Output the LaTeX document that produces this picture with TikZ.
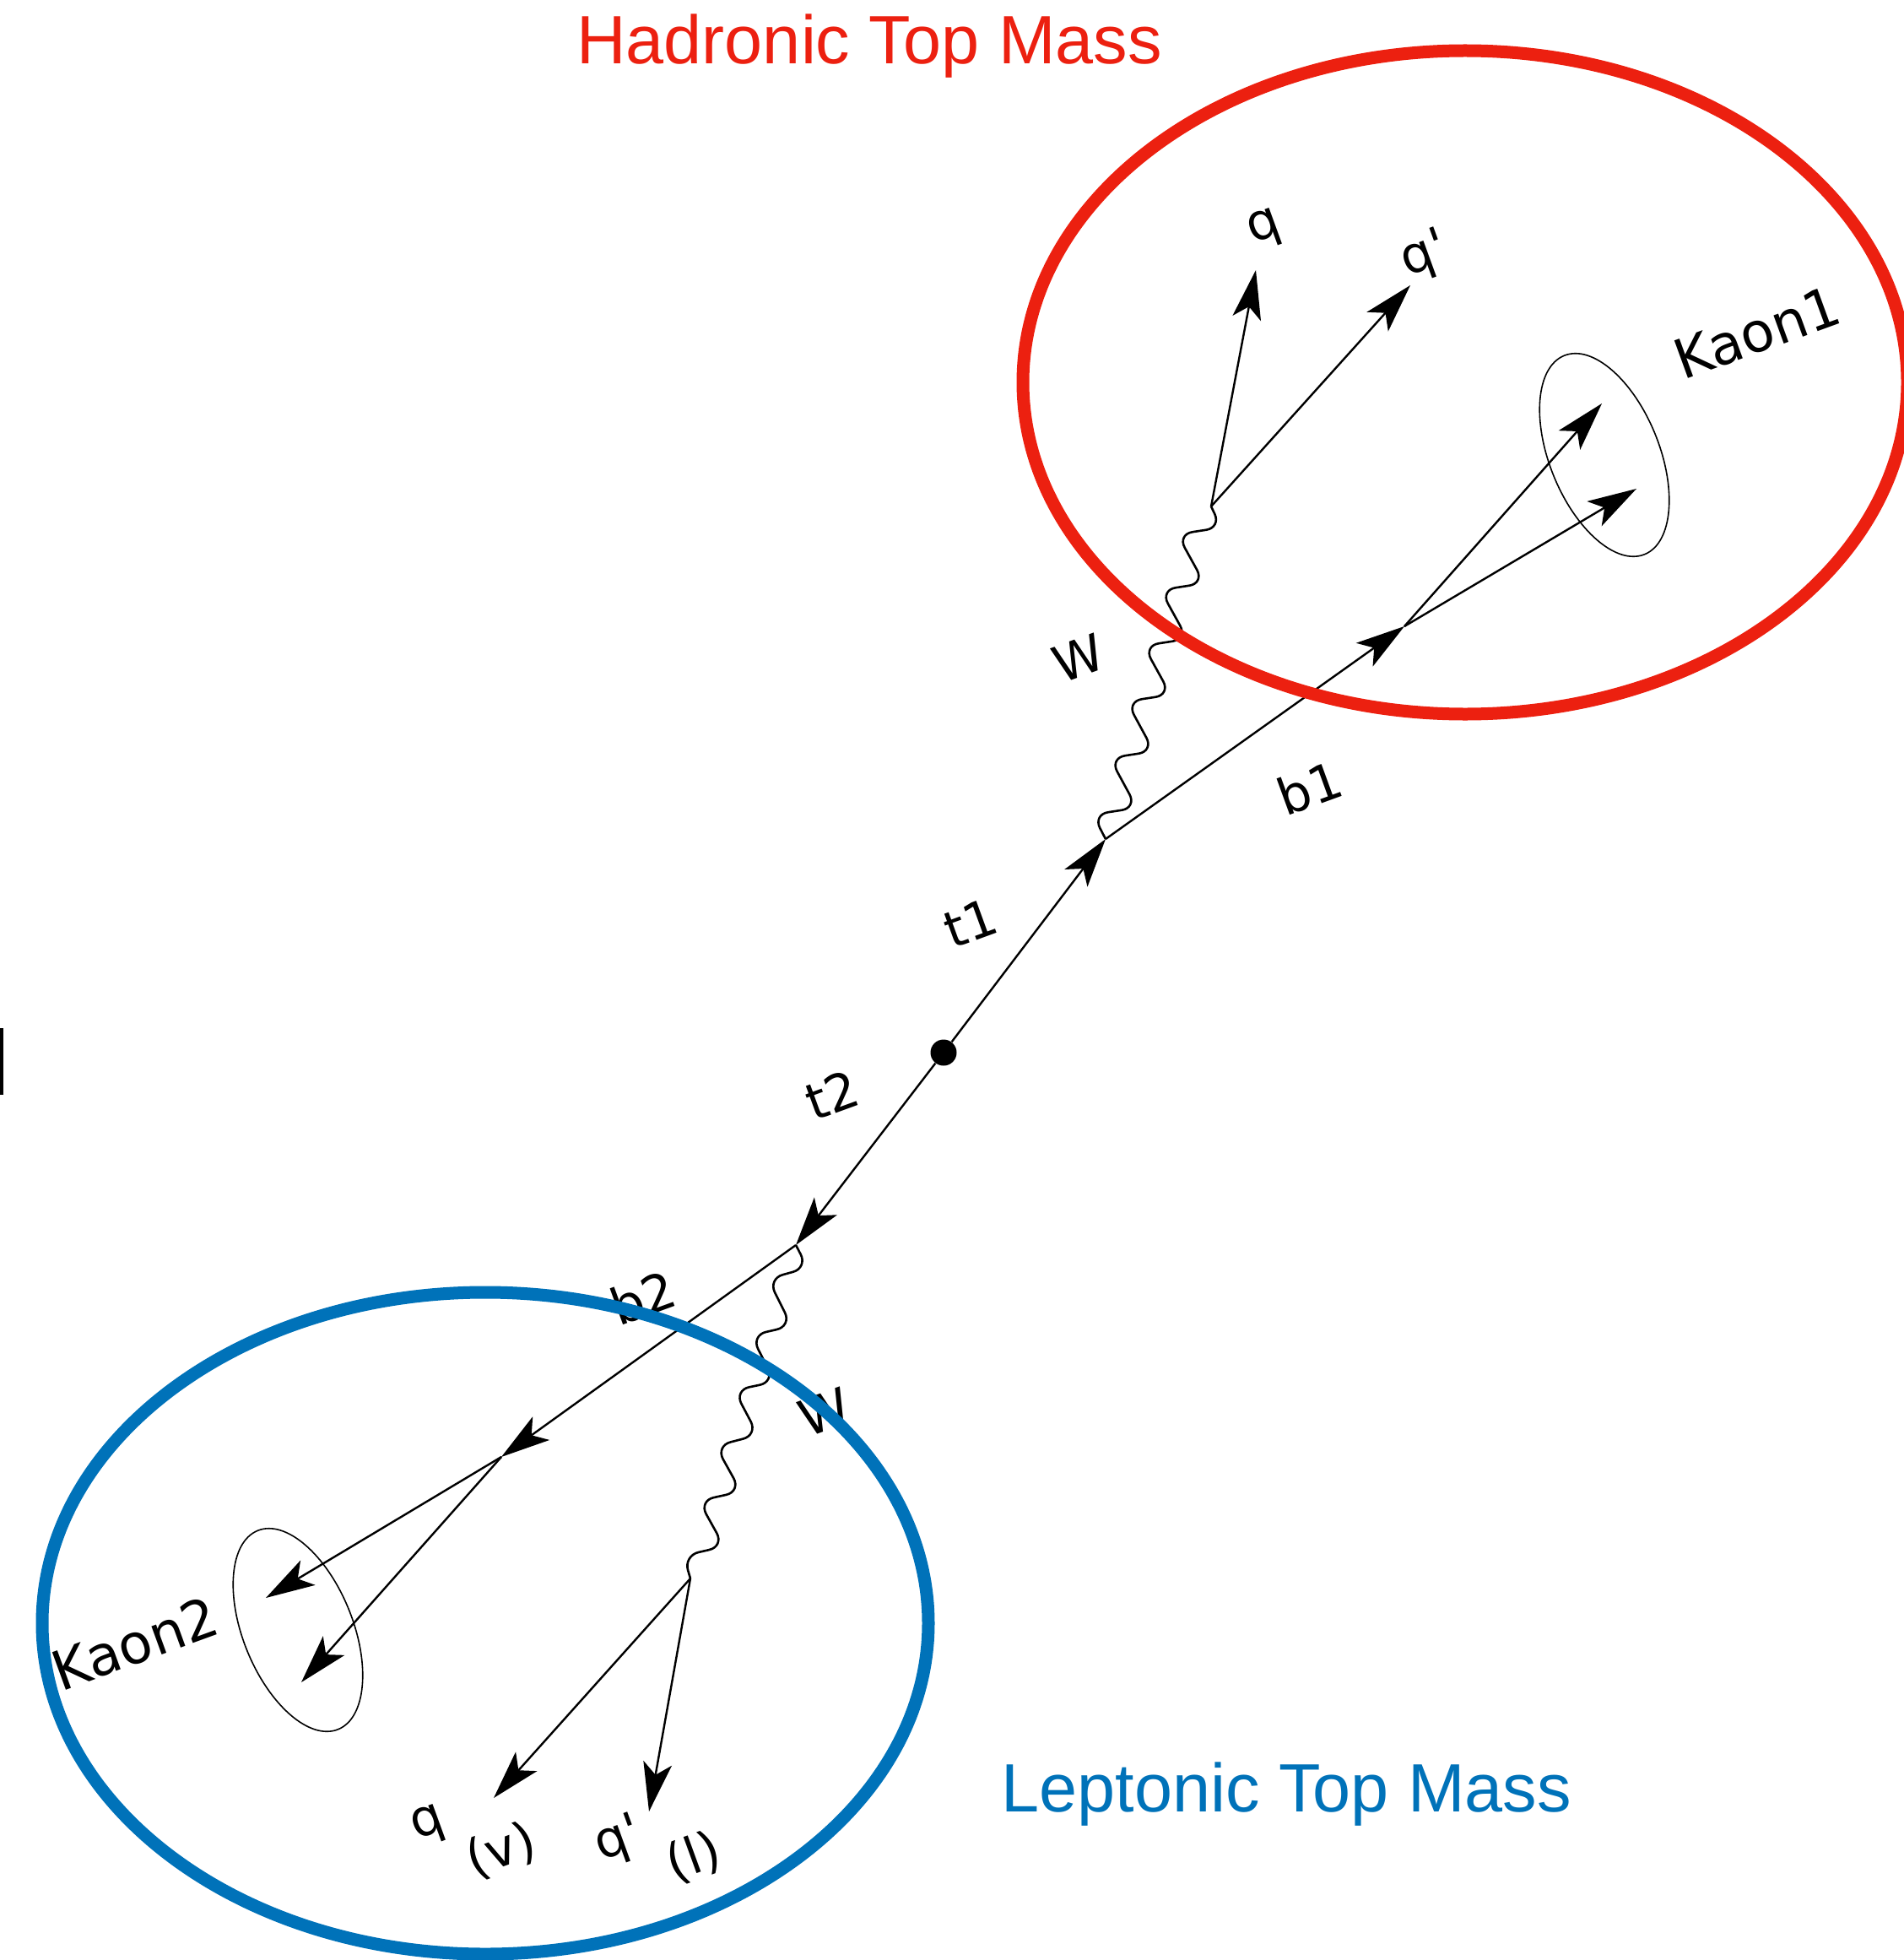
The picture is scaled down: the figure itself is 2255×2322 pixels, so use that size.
\documentclass[tikz,border=0pt]{standalone}
\usepackage{fontspec}
\usetikzlibrary{arrows.meta}
\newfontfamily\lblfont{DejaVu Sans}[Ligatures=TeXOff]
\newfontfamily\headfont{Liberation Sans}
\definecolor{hadred}{RGB}{236,32,16}
\definecolor{lepblue}{RGB}{0,114,185}

\begin{document}
\begin{tikzpicture}[x=0.5pt,y=-0.5pt,
  fermion/.style={line width=1.2pt,-{Stealth[length=29pt,width=17pt,inset=7pt]}},
  boson/.style={line width=1.3pt,rounded corners=9pt},
  jetcone/.style={line width=0.8pt},
  lbl/.style={font=\lblfont\fontsize{30}{32}\selectfont,inner sep=0pt,rotate=20},
  kaonlbl/.style={lbl,font=\lblfont\fontsize{32.5}{34}\selectfont},
  ring/.style={line width=7.5pt},
  head/.style={font=\headfont\fontsize{40.5}{43}\selectfont,inner sep=0pt,anchor=base west}]
\useasboundingbox (0,0) rectangle (2255,2322);

% vertices and end points
\node[circle,fill=black,inner sep=0pt,minimum size=15.5pt] (dot) at (1118,1247) {};
\coordinate (V1) at (1310,994);
\coordinate (V2) at (943,1475);
\coordinate (B1) at (1664,742);
\coordinate (B2) at (594,1726);
\coordinate (Q1) at (1435,600);
\coordinate (Q2) at (818,1870);
\coordinate (q1tip) at (1488,320);
\coordinate (q2tip) at (1671,338);
\coordinate (k1a) at (1898,478);
\coordinate (k1b) at (1939,579);
\coordinate (k2a) at (315,1893);
\coordinate (k2b) at (357,1993);
\coordinate (q3tip) at (585,2130);
\coordinate (q4tip) at (769,2146);
\coordinate (K1c) at (1901,539);
\coordinate (K2c) at (353,1931);

% top quark lines
\draw[fermion] (dot) -- (V1);
\draw[fermion] (dot) -- (V2);
\draw[fermion] (V1) -- (B1);
\draw[fermion] (V2) -- (B2);
\draw[fermion] (B1) -- (k1a);
\draw[fermion] (B1) -- (k1b);
\draw[fermion] (B2) -- (k2a);
\draw[fermion] (B2) -- (k2b);
\draw[fermion] (Q1) -- (q1tip);
\draw[fermion] (Q1) -- (q2tip);
\draw[fermion] (Q2) -- (q3tip);
\draw[fermion] (Q2) -- (q4tip);

% W bosons
\draw[boson] (V1) -- (1295,965) -- (1347,957) -- (1315,898) -- (1367,890)
  -- (1335,831) -- (1387,823) -- (1355,765) -- (1407,757) -- (1375,699)
  -- (1427,691) -- (1395,633) -- (1447,625) -- (Q1);
\draw[boson] (V2) -- (957,1502) -- (910,1515) -- (938,1571) -- (890,1582)
  -- (918,1637) -- (870,1647) -- (898,1700) -- (848,1713) -- (878,1767)
  -- (828,1778) -- (858,1832) -- (810,1843) -- (Q2);

% kaon cones
\draw[jetcone,rotate around={22:(K1c)}] (K1c) ellipse[x radius=32.5pt,y radius=63.5pt];
\draw[jetcone,rotate around={22:(K2c)}] (K2c) ellipse[x radius=32.5pt,y radius=63.5pt];

% particle labels
\node[lbl] (lq1) at (1499,272) {q};
\node[lbl] (lq2) at (1688,303) {q'};
\node[kaonlbl] (lk1) at (2082,394) {Kaon1};
\node[lbl] (lw1) at (1278,780) {W};
\node[lbl] (lb1) at (1552,933) {b1};
\node[lbl] (lt1) at (1150,1093) {t1};
\node[lbl] (lt2) at (986,1297) {t2};
\node[lbl] (lb2) at (762,1537) {b2};
\node[lbl] (lw2) at (977,1673) {W};
\node[kaonlbl] (lk2) at (160,1947) {Kaon2};
\node[lbl] (lq3) at (508,2163) {q};
\node[lbl] (lnu) at (594,2193) {(v)};
\node[lbl] (lq4) at (733,2180) {q'};
\node[lbl] (llep) at (822,2201) {(l)};

% small bar at the left edge
\fill (0,1218) rectangle (4.3,1297);

% hemisphere rings and titles
\draw[ring,hadred] (1736,453) ellipse[x radius=262pt,y radius=196.5pt];
\draw[ring,lepblue] (575,1923) ellipse[x radius=262.5pt,y radius=196pt];
\node[head,text=hadred] (thad) at (683,76) {Hadronic Top Mass};
\node[head,text=lepblue] (tlep) at (1186,2146) {Leptonic Top Mass};
\end{tikzpicture}
\end{document}
